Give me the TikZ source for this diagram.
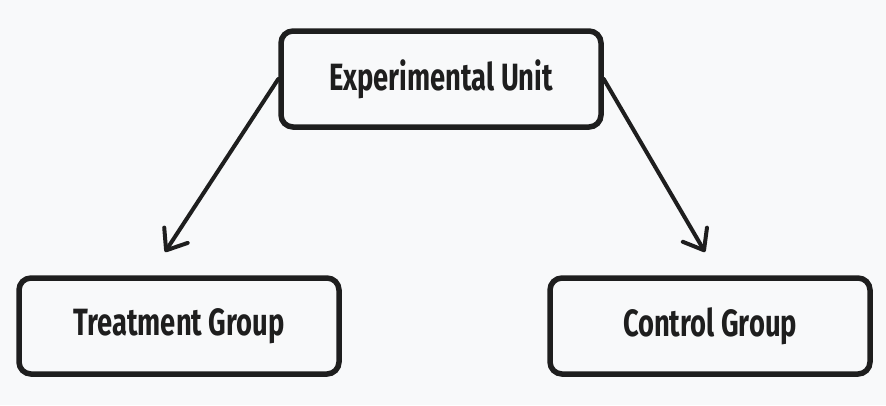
\documentclass[tikz,border=0pt]{standalone}
\usepackage{fontspec}
\setmainfont{Fira Sans}[FakeStretch=0.72]
\usetikzlibrary{arrows.meta}
\definecolor{ink}{HTML}{1E1E1E}
\definecolor{paper}{HTML}{F8F9FA}
\tikzset{
  box/.style={draw=ink, line width=5.5pt, rounded corners=12pt, fill=paper,
    minimum width=320pt, minimum height=96pt, text=ink,
    font=\bfseries\fontsize{38}{44}\selectfont},
  arr/.style={draw=ink, line width=4pt, line cap=round, line join=round,
    -{Straight Barb[length=18pt,width=28pt,round]}}
}
\begin{document}
\begin{tikzpicture}[x=1pt,y=-1pt]
      \fill[paper] (0,0) rectangle (886,405);
      \useasboundingbox (0,0) rectangle (886,405);
      % boxes
      \node[box] (unit) at (441,79) {Experimental Unit};
      \node[box] (treat) at (179,326) {Treatment Group};
      \node[box] (ctrl) at (710,326) {Control Group};
      % arrow ends
      \coordinate (treatin) at (165,252);
      \coordinate (ctrlin) at (705,252);
      \draw[arr] (unit.west) -- (treatin);
      \draw[arr] (unit.east) -- (ctrlin);
\end{tikzpicture}
\end{document}
